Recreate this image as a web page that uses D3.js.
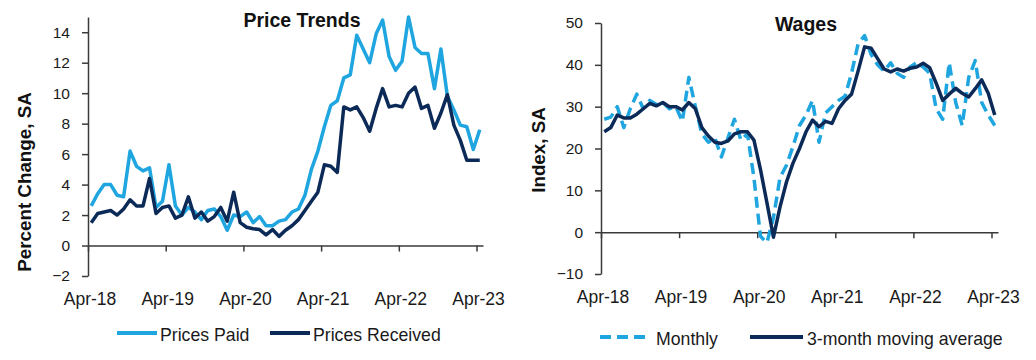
<!DOCTYPE html>
<html>
<head>
<meta charset="utf-8">
<script src="https://cdn.jsdelivr.net/npm/d3@7"></script>
<style>
  html, body { margin: 0; padding: 0; background: #fff; }
  svg { display: block; font-family: "Liberation Sans", Arial, sans-serif; }
</style>
</head>
<body>
<svg id="chart" width="1036" height="360"></svg>
<script>
// ---- Data ----
const xTickLabels = ["Apr-18", "Apr-19", "Apr-20", "Apr-21", "Apr-22", "Apr-23"];
const xTickIndex = [0, 12, 24, 36, 48, 60];

// Price Trends (monthly, Apr-18 .. Apr-23)
const pricesPaid = [
  2.6, 3.4, 4.0, 4.0, 3.3, 3.2, 6.2, 5.2, 4.9, 5.1,
  2.5, 2.9, 5.3, 2.6, 2.0, 2.5, 2.2, 1.7, 2.3, 2.4,
  1.9, 1.0, 2.0, 1.9, 2.2, 1.5, 1.9, 1.3, 1.3, 1.6,
  1.7, 2.2, 2.4, 3.3, 5.0, 6.2, 7.8, 9.2, 9.5, 11.0,
  11.2, 13.8, 12.9, 12.0, 13.9, 14.8, 12.4, 11.5, 12.1, 15.0,
  13.0, 12.6, 12.6, 10.3, 12.9, 9.8, 8.9, 7.9, 7.8, 6.3,
  7.6
];
const pricesReceived = [
  1.5, 2.1, 2.2, 2.3, 2.0, 2.4, 3.0, 2.6, 2.6, 4.4,
  2.1, 2.5, 2.6, 1.8, 2.0, 3.2, 1.8, 2.2, 1.6, 1.9,
  2.5, 1.6, 3.5, 1.5, 1.2, 1.1, 1.05, 0.7, 1.05, 0.6,
  1.0, 1.3, 1.7, 2.3, 2.9, 3.5, 5.3, 5.2, 4.8, 9.1,
  8.9, 9.1, 8.4, 7.5, 9.0, 10.3, 9.1, 9.2, 9.1, 10.0,
  10.4, 9.0, 9.2, 7.7, 8.7, 9.9, 7.9, 6.9, 5.6, 5.6,
  5.6
];
const priceTicks = [-2, 0, 2, 4, 6, 8, 10, 12, 14];

// Wages
const wagesMonthly = [
  27, 27.5, 30, 25, 29.5, 33, 29.5, 31.5, 30.5, 31,
  29.5, 30, 26.5, 37, 30, 23.5, 21.5, 22.5, 18, 22.5,
  27, 22, 23.5, 13, -1, -2.5, 3.5, 13, 16, 20.5,
  25.5, 28, 31.5, 21.5, 28.5, 30, 31.5, 32.5, 38, 45,
  47, 42.5, 40, 38.5, 40.5, 38, 37, 39.5, 40.5, 39.5,
  38, 29.5, 27, 40.5, 31, 25.5, 37, 41, 31, 28,
  25.5
];
const wages3mma = [
  24, 25, 28, 27.3, 27.3, 28.2, 29.5, 30.8, 30.2, 31,
  30, 30, 29.2, 31, 29.5, 25, 23, 21.5, 21.2, 21.8,
  23.5, 24, 24, 22, 15, 7, -1.2, 6, 12, 16.5,
  20, 24, 26.8, 25.2, 26.5, 26, 29.5, 31.5, 33, 38.5,
  44.3, 44, 41.5, 39, 38.3, 39, 38.5, 39.2, 39.5, 40.4,
  39.3, 35.6, 31.5, 33, 34.4, 33.2, 32.3, 34.3, 36.4, 33.2,
  28
];
const wageTicks = [-10, 0, 10, 20, 30, 40, 50];

// ---- Styles ----
const LIGHT = "#1FA5DF";
const NAVY = "#0C2A58";
const AXIS = "#3a3a3a";
const TEXT = "#1a1a1a";

const svg = d3.select("#chart");

function panel(opts) {
  const g = svg.append("g");
  const x = d3.scaleLinear().domain([0, 61]).range(opts.xRange);
  const y = d3.scaleLinear().domain(opts.yDomain).range(opts.yRange);

  // y axis
  const ya = g.append("g")
    .attr("transform", `translate(${opts.xRange[0]},0)`)
    .call(d3.axisLeft(y).tickValues(opts.yTicks).tickSize(6).tickPadding(12).tickSizeOuter(0));
  ya.select(".domain").attr("stroke", AXIS).attr("stroke-width", 1.5);
  ya.selectAll(".tick line").attr("stroke", AXIS).attr("stroke-width", 1.5);
  ya.selectAll(".tick text").attr("fill", TEXT).style("font-size", "15.5px")
    .style("font-family", '"Liberation Sans", Arial, sans-serif');

  // x axis at zero
  const xa = g.append("g")
    .attr("transform", `translate(0,${y(0)})`)
    .call(d3.axisBottom(x).tickValues(xTickIndex).tickSize(6).tickFormat("").tickSizeOuter(0));
  xa.select(".domain").attr("stroke", AXIS).attr("stroke-width", 1.5);
  xa.selectAll(".tick line").attr("stroke", AXIS).attr("stroke-width", 1.5);

  // x labels at bottom
  g.selectAll(".xl").data(xTickLabels).enter().append("text")
    .attr("x", (d, i) => x(xTickIndex[i]) + 2)
    .attr("y", opts.xLabelY)
    .attr("text-anchor", "middle")
    .attr("fill", TEXT)
    .style("font-size", "17.5px")
    .text(d => d);

  // title
  g.append("text").attr("x", opts.titleX).attr("y", opts.titleY)
    .attr("text-anchor", "middle").attr("font-weight", "bold")
    .attr("fill", "#111").style("font-size", "19.5px").text(opts.title);

  // y-axis title
  g.append("text")
    .attr("transform", `translate(${opts.yTitleX},${opts.yTitleY}) rotate(-90)`)
    .attr("text-anchor", "middle").attr("font-weight", "bold")
    .attr("fill", "#111").style("font-size", "18.8px").text(opts.yTitle);

  const line = d3.line().x((d, i) => x(i + 0.5)).y(d => y(d));
  opts.series.forEach(s => {
    g.append("path").datum(s.values)
      .attr("fill", "none").attr("stroke", s.color).attr("stroke-width", 3.5)
      .attr("stroke-linejoin", "round")
      .attr("stroke-dasharray", s.dash || null)
      .attr("d", line);
  });

  // legend
  opts.legend.forEach(l => {
    g.append("line").attr("x1", l.x1).attr("x2", l.x2).attr("y1", l.y).attr("y2", l.y)
      .attr("stroke", l.color).attr("stroke-width", 4)
      .attr("stroke-dasharray", l.dash || null);
    g.append("text").attr("x", l.tx).attr("y", l.y + 8).attr("fill", TEXT)
      .style("font-size", "17.7px").text(l.label);
  });
}

panel({
  xRange: [88, 483], yDomain: [-2, 15], yRange: [276, 17], yTicks: priceTicks,
  xLabelY: 305, title: "Price Trends", titleX: 302, titleY: 27,
  yTitle: "Percent Change, SA", yTitleX: 31, yTitleY: 182,
  series: [
    { values: pricesPaid, color: LIGHT },
    { values: pricesReceived, color: NAVY }
  ],
  legend: [
    { x1: 117, x2: 157, y: 333, color: LIGHT, tx: 160, label: "Prices Paid" },
    { x1: 270, x2: 310, y: 333, color: NAVY, tx: 313, label: "Prices Received" }
  ]
});

panel({
  xRange: [601, 998], yDomain: [-10, 50], yRange: [274, 23], yTicks: wageTicks,
  xLabelY: 303, title: "Wages", titleX: 806, titleY: 31,
  yTitle: "Index, SA", yTitleX: 545, yTitleY: 150,
  series: [
    { values: wagesMonthly, color: LIGHT, dash: "11,6" },
    { values: wages3mma, color: NAVY }
  ],
  legend: [
    { x1: 600, x2: 647, y: 337, color: LIGHT, dash: "11,6", tx: 656, label: "Monthly" },
    { x1: 750, x2: 803, y: 337, color: NAVY, tx: 807, label: "3-month moving average" }
  ]
});
</script>
</body>
</html>
